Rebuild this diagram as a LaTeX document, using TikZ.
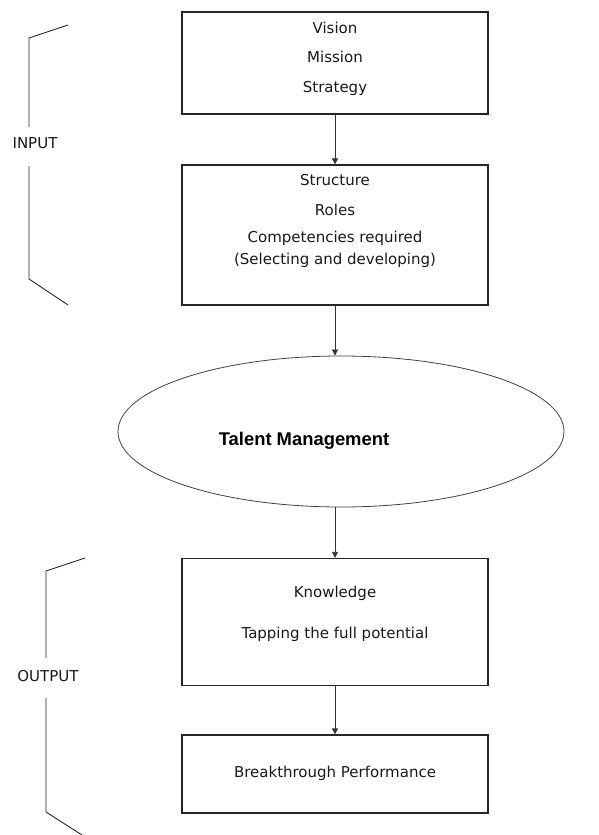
\documentclass[tikz,border=0pt]{standalone}
\usepackage{fontspec}
\setmainfont{DejaVu Sans}
\newfontfamily\boldsans{Liberation Sans}
\usetikzlibrary{arrows.meta,shapes.geometric}
\begin{document}
\begin{tikzpicture}[x=1pt,y=-1pt,
  boxstyle/.style={draw=black!85,line width=1.2pt,minimum width=306pt,inner sep=0pt},
  txt/.style={font=\fontsize{15}{17}\selectfont,inner sep=0pt,text=black!90},
  side/.style={font=\fontsize{15}{17}\selectfont,inner sep=0pt,text=black!90},
  arr/.style={draw=black!80,line width=0.7pt,-{Triangle[length=6pt,width=6pt]}},
  brk/.style={draw=black!85,line width=0.9pt}]
\useasboundingbox (0,0) rectangle (598,835);
% boxes
\node[boxstyle,minimum height=102pt] (b1) at (335,63) {};
\node[boxstyle,minimum height=140pt] (b2) at (335,235) {};
\node[draw=black!75,line width=0.8pt,ellipse,minimum width=446pt,minimum height=151pt,inner sep=0pt] (ell) at (341,431.5) {};
\node[boxstyle,minimum height=127pt] (b3) at (335,622) {};
\node[boxstyle,minimum height=78pt] (b4) at (335,774) {};
% texts
\node[txt] (t1) at (335,28) {Vision};
\node[txt] (t2) at (335,57) {Mission};
\node[txt] (t3) at (335,88) {Strategy};
\node[txt] (t4) at (335,180) {Structure};
\node[txt] (t5) at (335,210) {Roles};
\node[txt] (t6) at (335,238) {Competencies required};
\node[txt] (t7) at (335,260) {(Selecting and developing)};
\node[font=\boldsans\bfseries\fontsize{18.4}{20}\selectfont,inner sep=0pt] (tm) at (304,441) {Talent Management};
\node[txt] (t8) at (335,593) {Knowledge};
\node[txt] (t9) at (335,634) {Tapping the full potential};
\node[txt] (t10) at (335,773) {Breakthrough Performance};
% arrows
\draw[arr] (b1.south) -- (b2.north);
\draw[arr] (b2.south) -- (b2.south |- ell.north);
\draw[arr] (b3.north |- ell.south) -- (b3.north);
\draw[arr] (b3.south) -- (b4.north);
% INPUT bracket
\node[side] (inp) at (35,143) {INPUT};
\coordinate (i1) at (68,25);
\coordinate (i2) at (29,38);
\coordinate (i3) at (29,127);
\coordinate (i4) at (29,166);
\coordinate (i5) at (29,279);
\coordinate (i6) at (68,305);
\draw[brk] (i1) -- (i2) -- (i3);
\draw[brk] (i4) -- (i5) -- (i6);
% OUTPUT bracket
\node[side] (outp) at (48,676) {OUTPUT};
\coordinate (o1) at (85,558);
\coordinate (o2) at (46,571);
\coordinate (o3) at (46,658);
\coordinate (o4) at (46,698);
\coordinate (o5) at (46,812);
\coordinate (o6) at (82,835);
\draw[brk] (o1) -- (o2) -- (o3);
\draw[brk] (o4) -- (o5) -- (o6);
\end{tikzpicture}
\end{document}
